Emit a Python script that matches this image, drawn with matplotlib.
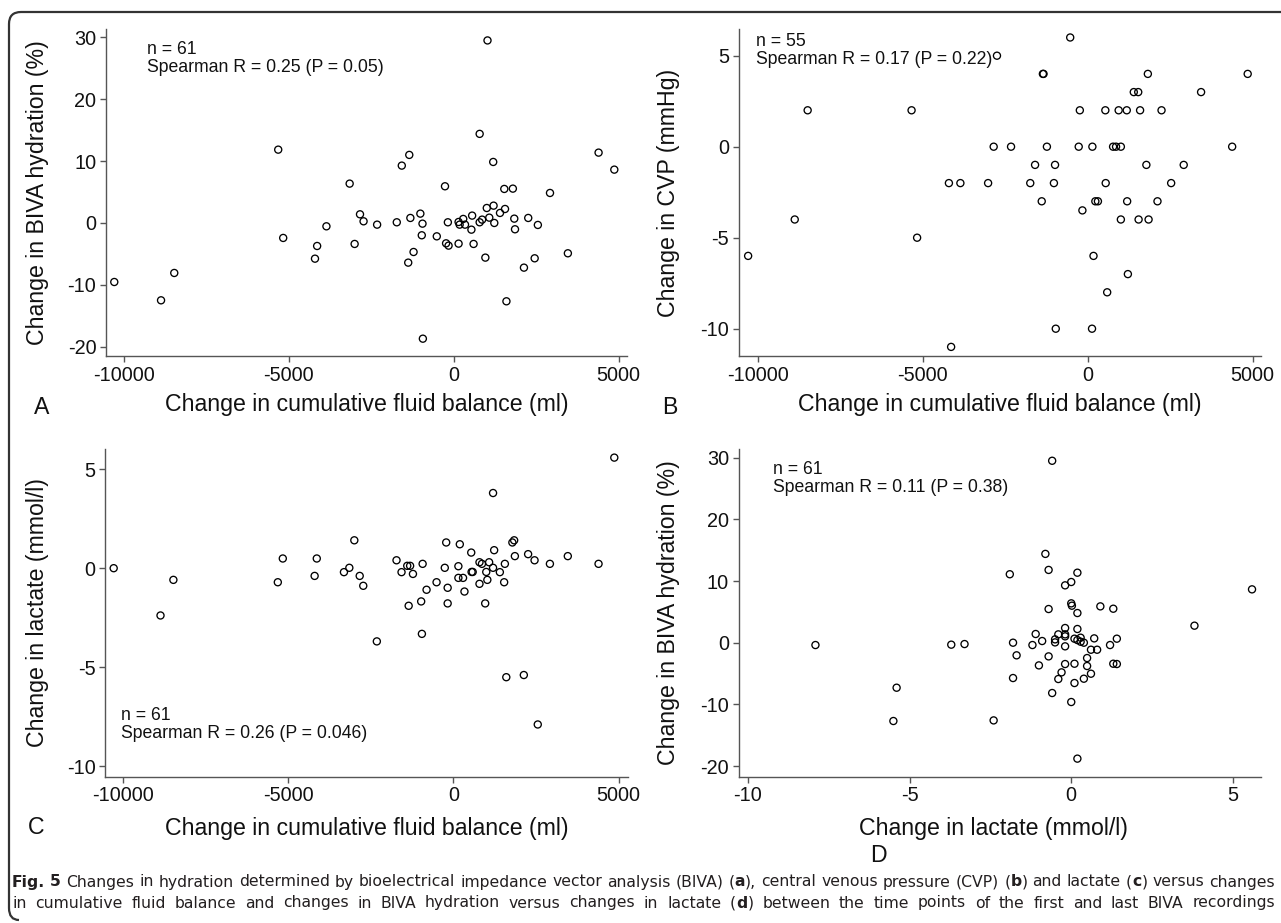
import matplotlib
matplotlib.use('Agg')
import matplotlib.pyplot as plt
from matplotlib import font_manager
from matplotlib.path import Path
from matplotlib.patches import PathPatch

plt.rcParams['font.family'] = ['Liberation Sans', 'DejaVu Sans']
plt.rcParams['axes.unicode_minus'] = False

# ---- data ----
# A: change in cumulative fluid balance (ml) vs change in BIVA hydration (%)
fluid_a = [1025, -5321, -1347, 787, 1198, -1574, 4393, 4870, -3155, -264,
           1534, 1794, 2920, 1003, 1209, 1556, 1404, -2841, -1011, 559,
           -1314, 1837, 2260, -2733, 289, 1079, 862, 787, 1231, -177,
           148, 180, 343, -946, -1726, -2322, -3859, 2552, 537, 1859,
           -5170, -968, -513, -3004, -231, -156, 148, 603, -4141, -4206,
           -1217, -1379, 960, 2455, 3462, 2130, -8473, -10292, -8874, 1599,
           -935]
hyd_a = [29.5, 11.85, 11.0, 14.4, 9.86, 9.27, 11.37, 8.62, 6.36, 5.93,
         5.50, 5.55, 4.85, 2.42, 2.80, 2.26, 1.62, 1.40, 1.51, 1.19,
         0.81, 0.70, 0.81, 0.27, 0.65, 0.86, 0.54, 0.11, 0.0, 0.11,
         0.16, -0.27, -0.27, -0.11, 0.11, -0.27, -0.54, -0.32, -1.08, -1.02,
         -2.42, -1.99, -2.16, -3.39, -3.29, -3.66, -3.34, -3.39, -3.72, -5.77,
         -4.69, -6.41, -5.60, -5.71, -4.90, -7.22, -8.08, -9.54, -12.5, -12.66,
         -18.7]

# B: change in cumulative fluid balance (ml) vs change in CVP (mmHg)
fluid_b = [-531, -2753, -1360, -1340, 1825, 4854, 1398, 1533, 3440, -8497,
           -5344, -239, 535, 939, 1185, 1589, 2240, -2853, -2326, -1238,
           -273, 142, 770, 860, 1006, 4383, -1597, -991, 1780, 2913,
           -4211, -3863, -3022, -1743, -1025, 546, 2532, -1395, 232, 310,
           1197, 2117, -161, 1006, 1544, 1847, -8889, -5176, -10303, 176,
           1219, 591, -969, 131, -4144]
cvp_b = [6, 5, 4, 4, 4, 4, 3, 3, 3, 2,
         2, 2, 2, 2, 2, 2, 2, 0, 0, 0,
         0, 0, 0, 0, 0, 0, -1, -1, -1, -1,
         -2, -2, -2, -2, -2, -2, -2, -3, -3, -3,
         -3, -3, -3.5, -4, -4, -4, -4, -5, -6, -6,
         -7, -8, -10, -10, -11]

# C: change in cumulative fluid balance (ml) vs change in lactate (mmol/l)
fluid_c = [4870, 1198, -3004, -221, 191, 1837, 1783, 1231, 537, 1859,
           2260, 3462, 2455, -5170, -4141, -1726, -935, 2920, 4393, 1556,
           787, 1079, 862, 148, -1401, -1314, -3155, -10292, -264, 1198,
           -1574, -1228, -3318, 581, 548, 992, 1404, -2841, -4206, 148,
           289, 1025, -8484, -5321, -513, 787, 1534, -2733, -177, -816,
           332, -979, -177, 960, -1358, -8874, -957, -2322, 1599, 2130,
           2552]
lac_c = [5.59, 3.80, 1.41, 1.30, 1.21, 1.41, 1.30, 0.91, 0.79, 0.61,
         0.71, 0.61, 0.40, 0.49, 0.49, 0.40, 0.22, 0.22, 0.22, 0.22,
         0.30, 0.30, 0.22, 0.10, 0.12, 0.12, 0.02, 0.0, 0.02, 0.02,
         -0.20, -0.29, -0.20, -0.19, -0.19, -0.19, -0.20, -0.39, -0.39, -0.49,
         -0.49, -0.59, -0.59, -0.71, -0.71, -0.79, -0.71, -0.89, -0.99, -1.09,
         -1.18, -1.68, -1.78, -1.78, -1.90, -2.39, -3.32, -3.70, -5.51, -5.40,
         -7.90]

# D: change in lactate (mmol/l) vs change in BIVA hydration (%)
lac_d = [-0.59, -0.80, -0.70, -1.90, 0.19, 0.0, -0.19, 5.59, 0.0, 0.02,
         -0.70, 0.19, 0.90, 1.30, 3.81, 0.19, -0.19, -1.10, -0.40, -0.19,
         -0.19, -0.50, -0.90, -0.50, 0.10, 0.29, 0.19, 0.29, 0.39, 0.71,
         1.41, -1.80, -1.20, 1.20, -0.19, 0.61, 0.80, -1.69, -0.70, 0.49,
         -1.0, -0.19, 0.10, 0.49, 1.30, 1.41, -0.30, 0.61, -1.80, -0.40,
         0.39, 0.10, -0.59, 0.0, -7.91, -3.71, -3.30, -5.40, -5.50, -2.40,
         0.19]
hyd_d = [29.5, 14.4, 11.8, 11.1, 11.35, 9.84, 9.30, 8.65, 6.38, 6.0,
         5.46, 4.81, 5.89, 5.51, 2.76, 2.22, 2.38, 1.41, 1.35, 1.35,
         1.03, 0.54, 0.27, 0.05, 0.65, 0.81, 0.43, 0.16, 0.0, 0.70,
         0.65, 0.0, -0.38, -0.38, -0.59, -1.14, -1.14, -2.05, -2.22, -2.49,
         -3.68, -3.46, -3.41, -3.78, -3.41, -3.46, -4.81, -5.03, -5.73, -5.89,
         -5.84, -6.54, -8.16, -9.62, -0.38, -0.32, -0.22, -7.30, -12.7, -12.6,
         -18.8]

fluid_ticks = [-10000, -5000, 0, 5000]
xlabel_fluid = 'Change in cumulative fluid balance (ml)'
xlabel_lac = 'Change in lactate (mmol/l)'

caption_lines = [
    '*Fig.* *5* Changes in hydration determined by bioelectrical impedance vector '
    'analysis (BIVA) (*a*), central venous pressure (CVP) (*b*) and lactate (*c*) '
    'versus changes',
    'in cumulative fluid balance and changes in BIVA hydration versus changes in '
    'lactate (*d*) between the time points of the first and last BIVA recordings',
]

# ---- layout (pixel coordinates of the 1281x923 picture) ----
W, H = 1281, 923
fig = plt.figure(figsize=(W / 100, H / 100), dpi=100)
AX_COL = '#555555'


def fx(x):
    return x / W


def fy(y):
    return 1 - y / H


def scatter_panel(x0, y0, x1, y1, xs, ys, xlim, ylim, xticks, yticks):
    ax = fig.add_axes([fx(x0), fy(y1), (x1 - x0) / W, (y1 - y0) / H])
    ax.scatter(xs, ys, s=26, facecolors='none', edgecolors='black',
               linewidths=0.95, clip_on=False)
    ax.set_xlim(xlim)
    ax.set_ylim(ylim)
    ax.set_xticks(xticks)
    ax.set_yticks(yticks)
    for side in ['top', 'right']:
        ax.spines[side].set_visible(False)
    for side in ['left', 'bottom']:
        ax.spines[side].set_color(AX_COL)
        ax.spines[side].set_linewidth(1.0)
    ax.tick_params(length=4, width=1, color=AX_COL, labelsize=14.3, pad=3,
                   labelcolor='#111111')
    return ax


scatter_panel(106, 29.3, 627.5, 356, fluid_a, hyd_a, (-10543, 5270), (-21.5, 31.3),
              fluid_ticks, [-20, -10, 0, 10, 20, 30])
scatter_panel(738.8, 29.3, 1261.4, 356, fluid_b, cvp_b, (-10586, 5270), (-11.5, 6.45),
              fluid_ticks, [-10, -5, 0, 5])
scatter_panel(105.4, 449.3, 627.5, 776.7, fluid_c, lac_c, (-10543, 5270), (-10.54, 6.01),
              fluid_ticks, [-10, -5, 0, 5])
scatter_panel(738.8, 449.3, 1261.4, 776.7, lac_d, hyd_d, (-10.28, 5.88), (-21.73, 31.36),
              [-10, -5, 0, 5], [-20, -10, 0, 10, 20, 30])

LAB = 16.7
TXT = '#111111'
# axis titles
fig.text(fx(38), fy(192.7), 'Change in BIVA hydration (%)', rotation=90,
         ha='center', va='center', fontsize=LAB, color=TXT)
fig.text(fx(668), fy(192.7), 'Change in CVP (mmHg)', rotation=90,
         ha='center', va='center', fontsize=LAB, color=TXT)
fig.text(fx(38), fy(613), 'Change in lactate (mmol/l)', rotation=90,
         ha='center', va='center', fontsize=LAB, color=TXT)
fig.text(fx(668), fy(613), 'Change in BIVA hydration (%)', rotation=90,
         ha='center', va='center', fontsize=LAB, color=TXT)
fig.text(fx(367), fy(405), xlabel_fluid, ha='center', va='center', fontsize=LAB, color=TXT)
fig.text(fx(1000), fy(405), xlabel_fluid, ha='center', va='center', fontsize=LAB, color=TXT)
fig.text(fx(367), fy(828), xlabel_fluid, ha='center', va='center', fontsize=LAB, color=TXT)
fig.text(fx(993), fy(828), xlabel_lac, ha='center', va='center', fontsize=LAB, color=TXT)

# panel letters
for letter, (x, y) in zip('ABCD', [(42, 407), (670, 407), (36, 827), (878, 856)]):
    fig.text(fx(x), fy(y), letter, ha='center', va='center', fontsize=LAB, color=TXT)

# statistics annotations
notes = [((147, 49.3), 'n = 61', 'Spearman R = 0.25 (P = 0.05)'),
         ((756, 41.7), 'n = 55', 'Spearman R = 0.17 (P = 0.22)'),
         ((121.4, 716), 'n = 61', 'Spearman R = 0.26 (P = 0.046)'),
         ((773, 470), 'n = 61', 'Spearman R = 0.11 (P = 0.38)')]
for (x, y), l1, l2 in notes:
    fig.text(fx(x), fy(y), l1, ha='left', va='center', fontsize=12.7, color=TXT)
    fig.text(fx(x), fy(y + 18), l2, ha='left', va='center', fontsize=12.7, color=TXT)

# frame around the figure
verts = [(W + 5, 12), (21, 12), (9, 12), (9, 24), (9, 908), (9, 920), (19, 920)]
codes = [Path.MOVETO, Path.LINETO, Path.CURVE3, Path.CURVE3, Path.LINETO,
         Path.CURVE3, Path.CURVE3]
frame = Path([(fx(x), fy(y)) for x, y in verts], codes)
fig.patches.append(PathPatch(frame, transform=fig.transFigure, fill=False,
                             lw=1.6, edgecolor='#333333'))

# caption font: a condensed face if one is installed
cap_family = 'Liberation Sans'
for f in font_manager.fontManager.ttflist:
    if 'Narrow' in f.name or 'Condensed' in f.name or f.stretch in ('condensed', 'semi-condensed'):
        cap_family = f.name
        break

renderer = fig.canvas.get_renderer()
x_left, x_right = 12, 1275

# size the caption so that the first line nearly fills the width
probe = fig.text(0, 0, caption_lines[0].replace('*', ''), fontsize=10, family=cap_family)
natural = probe.get_window_extent(renderer).width
probe.remove()
cap_size = min(11.5, 10 * (x_right - x_left) * 0.985 / natural)

for line, ypix in zip(caption_lines, [882, 903]):
    words = []
    for word in line.split(' '):
        segs = []
        for i, part in enumerate(word.split('*')):
            if part:
                t = fig.text(0, fy(ypix), part, ha='left', va='center',
                             fontsize=cap_size, family=cap_family, color='#231f20',
                             fontweight='bold' if i % 2 else 'normal')
                segs.append((t, t.get_window_extent(renderer).width))
        words.append(segs)
    widths = [sum(w for _, w in segs) for segs in words]
    gap = (x_right - x_left - sum(widths)) / (len(words) - 1)
    x = x_left
    for segs, wsum in zip(words, widths):
        xx = x
        for t, w in segs:
            t.set_x(fx(xx))
            xx += w
        x += wsum + gap

fig.savefig('out.png', dpi=100)
